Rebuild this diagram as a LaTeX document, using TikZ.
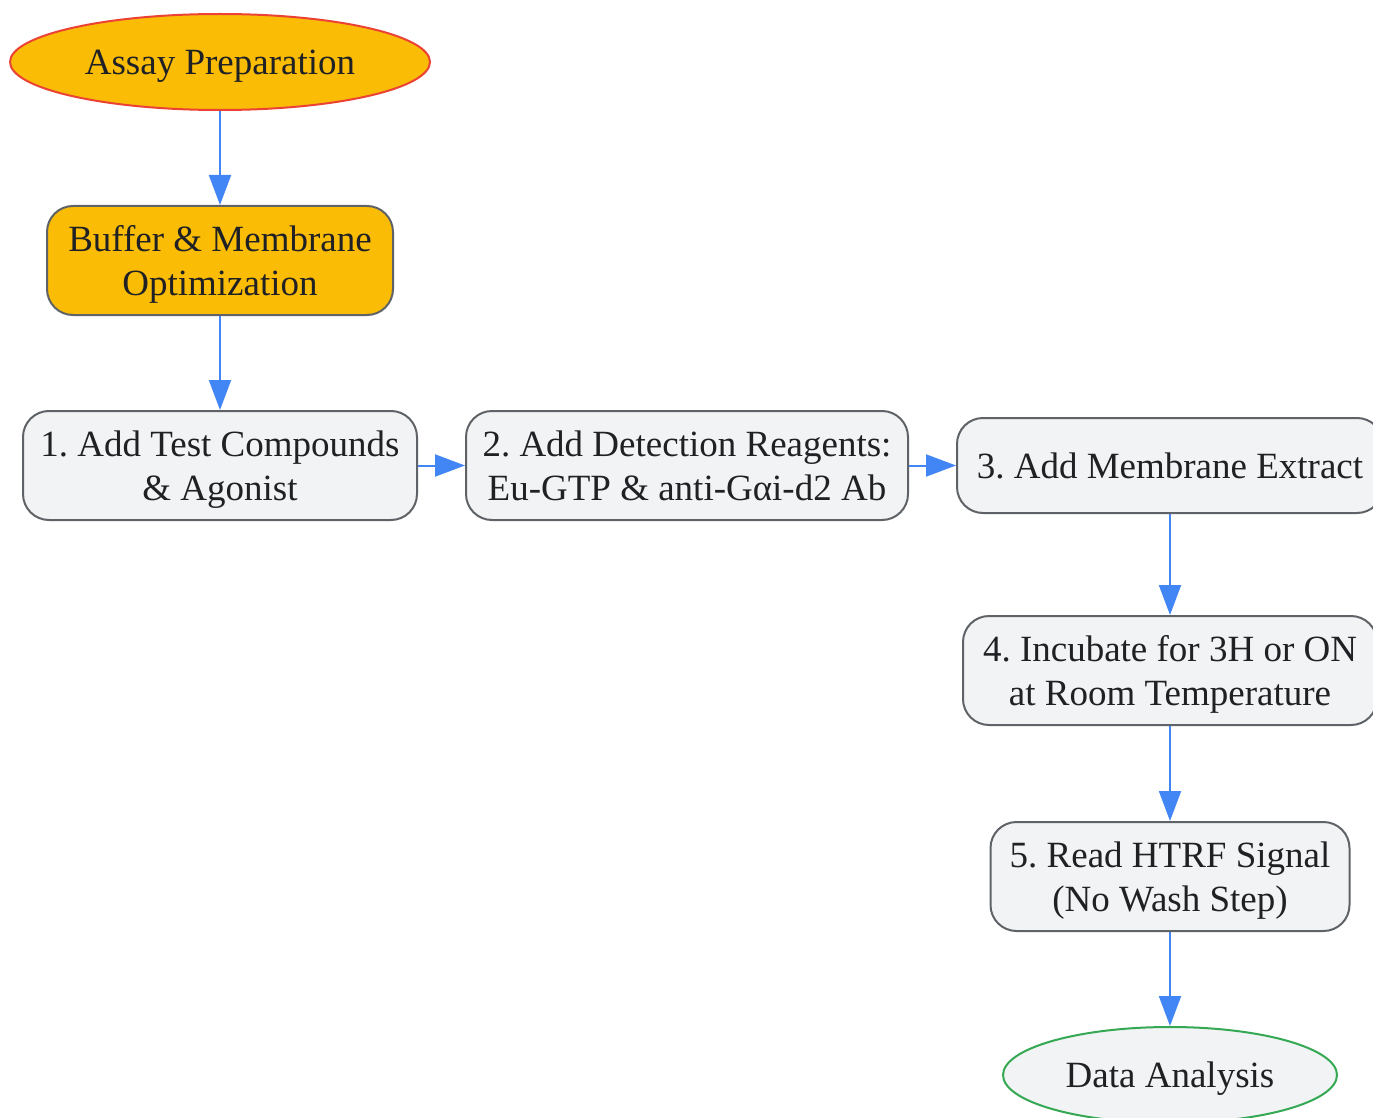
\documentclass[tikz,border=0pt]{standalone}
\usepackage{fontspec}
\setmainfont{Liberation Serif}
\usetikzlibrary{arrows.meta,shapes.geometric}
\definecolor{gyellow}{HTML}{FBBC05}
\definecolor{gred}{HTML}{EA4335}
\definecolor{ggreen}{HTML}{34A853}
\definecolor{gblue}{HTML}{4285F4}
\definecolor{ggray}{HTML}{5F6368}
\definecolor{glight}{HTML}{F1F3F4}
\definecolor{gtext}{HTML}{202124}
\frenchspacing
\newcommand\lstrut{\rule[-9.5pt]{0pt}{44pt}}
\begin{document}
\begin{tikzpicture}[x=1pt,y=-1pt,
  every node/.style={font=\fontsize{37}{44}\selectfont, text=gtext, align=center, inner sep=0pt},
  stepbox/.style={draw=ggray, line width=2pt, fill=glight, rounded corners=26pt},
  startnode/.style={ellipse, draw=gred, line width=2pt, fill=gyellow},
  endnode/.style={ellipse, draw=ggreen, line width=2pt, fill=glight},
  conn/.style={draw=gblue, line width=2pt, -{Triangle[length=30pt,width=22pt]}}]
\useasboundingbox (0,0) rectangle (1373,1118);
\clip (0,0) rectangle (1373,1118);
\node[startnode, minimum width=420pt, minimum height=96pt] (prep) at (220,62) {Assay Preparation\lstrut};
\node[stepbox, fill=gyellow, minimum width=346pt, minimum height=109pt] (buf) at (220,260.5) {Buffer \& Membrane\lstrut\\Optimization\lstrut};
\node[stepbox, minimum width=394pt, minimum height=109pt] (s1) at (220,465.5) {1. Add Test Compounds\lstrut\\\& Agonist\lstrut};
\node[stepbox, minimum width=442pt, minimum height=109pt] (s2) at (687,465.5) {2. Add Detection Reagents:\lstrut\\Eu-GTP \& anti-Gαi-d2 Ab\lstrut};
\node[stepbox, minimum width=426pt, minimum height=95pt] (s3) at (1170,465.5) {3. Add Membrane Extract\lstrut};
\node[stepbox, minimum width=414pt, minimum height=109pt] (s4) at (1170,670.5) {4. Incubate for 3H or ON\lstrut\\at Room Temperature\lstrut};
\node[stepbox, minimum width=359pt, minimum height=109pt] (s5) at (1170,876.5) {5. Read HTRF Signal\lstrut\\(No Wash Step)\lstrut};
\node[endnode, minimum width=334pt, minimum height=96pt] (data) at (1170,1075) {Data Analysis\lstrut};
\draw[conn] (prep) -- (buf);
\draw[conn] (buf) -- (s1);
\draw[conn] (s1) -- (s2);
\draw[conn] (s2) -- (s3);
\draw[conn] (s3) -- (s4);
\draw[conn] (s4) -- (s5);
\draw[conn] (s5) -- (data);
\end{tikzpicture}
\end{document}
